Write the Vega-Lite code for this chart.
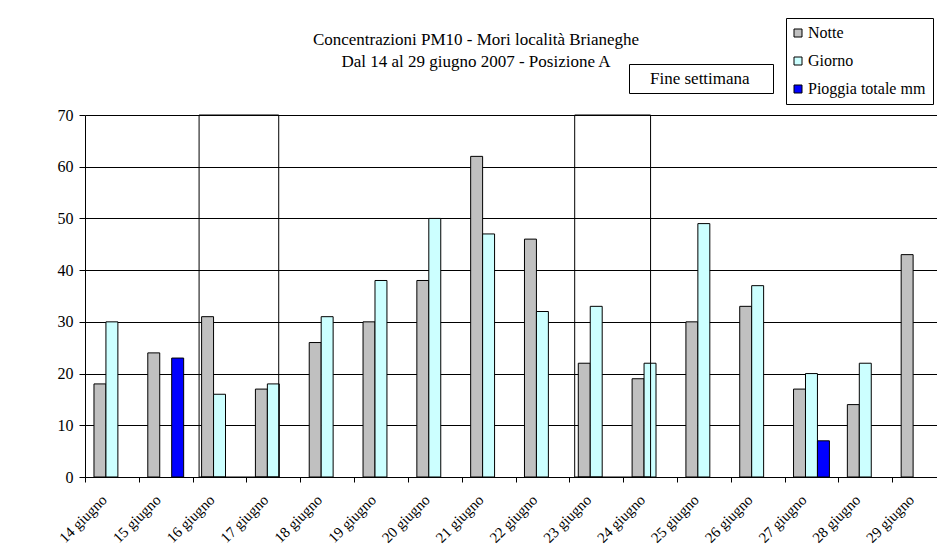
{
  "$schema": "https://vega.github.io/schema/vega-lite/v6.json",
  "width": 852,
  "height": 362,
  "autosize": {"type": "none"},
  "padding": {"left": 85, "top": 115, "right": 0, "bottom": 80},
  "background": "white",
  "config": {"font": "Liberation Serif", "view": {"stroke": null}},
  "title": {
    "text": ["Concentrazioni PM10 - Mori località Brianeghe", "Dal 14 al 29 giugno 2007 - Posizione A"],
    "fontSize": 17,
    "fontWeight": "normal",
    "color": "black",
    "font": "Liberation Serif",
    "anchor": "middle",
    "dx": -35,
    "offset": 0,
    "dy": 53,
    "lineHeight": 22
  },
  "datasets": {
    "bars": [
      {"day": "14 giugno", "series": "Notte", "value": 18},
      {"day": "14 giugno", "series": "Giorno", "value": 30},
      {"day": "15 giugno", "series": "Notte", "value": 24},
      {"day": "15 giugno", "series": "Pioggia totale mm", "value": 23},
      {"day": "16 giugno", "series": "Notte", "value": 31},
      {"day": "16 giugno", "series": "Giorno", "value": 16},
      {"day": "17 giugno", "series": "Notte", "value": 17},
      {"day": "17 giugno", "series": "Giorno", "value": 18},
      {"day": "18 giugno", "series": "Notte", "value": 26},
      {"day": "18 giugno", "series": "Giorno", "value": 31},
      {"day": "19 giugno", "series": "Notte", "value": 30},
      {"day": "19 giugno", "series": "Giorno", "value": 38},
      {"day": "20 giugno", "series": "Notte", "value": 38},
      {"day": "20 giugno", "series": "Giorno", "value": 50},
      {"day": "21 giugno", "series": "Notte", "value": 62},
      {"day": "21 giugno", "series": "Giorno", "value": 47},
      {"day": "22 giugno", "series": "Notte", "value": 46},
      {"day": "22 giugno", "series": "Giorno", "value": 32},
      {"day": "23 giugno", "series": "Notte", "value": 22},
      {"day": "23 giugno", "series": "Giorno", "value": 33},
      {"day": "24 giugno", "series": "Notte", "value": 19},
      {"day": "24 giugno", "series": "Giorno", "value": 22},
      {"day": "25 giugno", "series": "Notte", "value": 30},
      {"day": "25 giugno", "series": "Giorno", "value": 49},
      {"day": "26 giugno", "series": "Notte", "value": 33},
      {"day": "26 giugno", "series": "Giorno", "value": 37},
      {"day": "27 giugno", "series": "Notte", "value": 17},
      {"day": "27 giugno", "series": "Giorno", "value": 20},
      {"day": "27 giugno", "series": "Pioggia totale mm", "value": 7},
      {"day": "28 giugno", "series": "Notte", "value": 14},
      {"day": "28 giugno", "series": "Giorno", "value": 22},
      {"day": "29 giugno", "series": "Notte", "value": 43}
    ],
    "weekend": [
      {"start": "16 giugno", "end": "17 giugno", "label": "Fine settimana", "week": 1},
      {"start": "23 giugno", "end": "24 giugno", "label": "Fine settimana", "week": 2}
    ]
  },
  "layer": [
    {
      "data": {"name": "bars"},
      "mark": {"type": "bar", "stroke": "black", "strokeWidth": 1},
      "encoding": {
        "x": {
          "field": "day",
          "type": "nominal",
          "sort": null,
          "scale": {
            "domain": ["14 giugno", "15 giugno", "16 giugno", "17 giugno", "18 giugno", "19 giugno", "20 giugno", "21 giugno", "22 giugno", "23 giugno", "24 giugno", "25 giugno", "26 giugno", "27 giugno", "28 giugno", "29 giugno"],
            "paddingInner": 0,
            "paddingOuter": 0,
            "range": [0, 861]
          },
          "axis": {
            "title": null,
            "labelAngle": -45,
            "labelFontSize": 15,
            "labelColor": "black",
            "labelFont": "Liberation Serif",
            "domainColor": "black",
            "tickColor": "black",
            "tickSize": 5,
            "tickBand": "extent",
            "grid": false,
            "labelPadding": 10,
            "labelOffset": -13
          }
        },
        "xOffset": {
          "field": "series",
          "scale": {"domain": ["Notte", "Giorno", "Pioggia totale mm"], "paddingInner": 0, "paddingOuter": 0.75}
        },
        "y": {
          "field": "value",
          "type": "quantitative",
          "scale": {"domain": [0, 70]},
          "axis": {
            "title": null,
            "values": [0, 10, 20, 30, 40, 50, 60, 70],
            "grid": true,
            "gridColor": "black",
            "gridWidth": 1,
            "domainColor": "black",
            "tickColor": "black",
            "tickSize": 6,
            "labelFontSize": 16,
            "labelColor": "black",
            "labelFont": "Liberation Serif",
            "labelPadding": 6
          }
        },
        "fill": {
          "field": "series",
          "type": "nominal",
          "scale": {"domain": ["Notte", "Giorno", "Pioggia totale mm"], "range": ["#C0C0C0", "#CCFFFF", "#0000FF"]},
          "legend": {
            "title": null,
            "orient": "none",
            "legendX": 701,
            "legendY": -97,
            "strokeColor": "black",
            "fillColor": "white",
            "padding": 7,
            "rowPadding": 12,
            "labelFontSize": 16,
            "labelColor": "black",
            "labelFont": "Liberation Serif",
            "labelOffset": 2,
            "symbolOffset": -3,
            "symbolType": "square",
            "symbolSize": 64,
            "symbolStrokeColor": "black",
            "symbolStrokeWidth": 1
          }
        }
      }
    },
    {
      "data": {"name": "weekend"},
      "transform": [{"filter": "datum.week == 1"}],
      "mark": {"type": "rect", "fill": null, "strokeWidth": 1},
      "encoding": {
        "x": {"field": "start", "type": "nominal", "bandPosition": 0.12},
        "x2": {"field": "end", "bandPosition": 0.6},
        "y": {"datum": 70},
        "y2": {"datum": 0},
        "stroke": {
          "field": "label",
          "type": "nominal",
          "scale": {"domain": ["Fine settimana", "spazio"], "range": ["black", "black"]},
          "legend": {
            "title": null,
            "orient": "none",
            "legendX": 544,
            "legendY": -51,
            "strokeColor": "black",
            "fillColor": "white",
            "padding": 6,
            "columns": 2,
            "gridAlign": "none",
            "columnPadding": 2,
            "labelFontSize": 17,
            "labelColor": "black",
            "labelFont": "Liberation Serif",
            "labelOffset": -2,
            "labelExpr": "datum.value == 'Fine settimana' ? datum.label : ''",
            "symbolSize": 0,
            "symbolOpacity": 0,
            "symbolStrokeWidth": 0
          }
        }
      }
    },
    {
      "data": {"name": "weekend"},
      "transform": [{"filter": "datum.week == 2"}],
      "mark": {"type": "rect", "fill": null, "strokeWidth": 1},
      "encoding": {
        "x": {"field": "start", "type": "nominal", "bandPosition": 0.1},
        "x2": {"field": "end", "bandPosition": 0.51},
        "y": {"datum": 70},
        "y2": {"datum": 0},
        "stroke": {"field": "label", "type": "nominal"}
      }
    }
  ]
}
